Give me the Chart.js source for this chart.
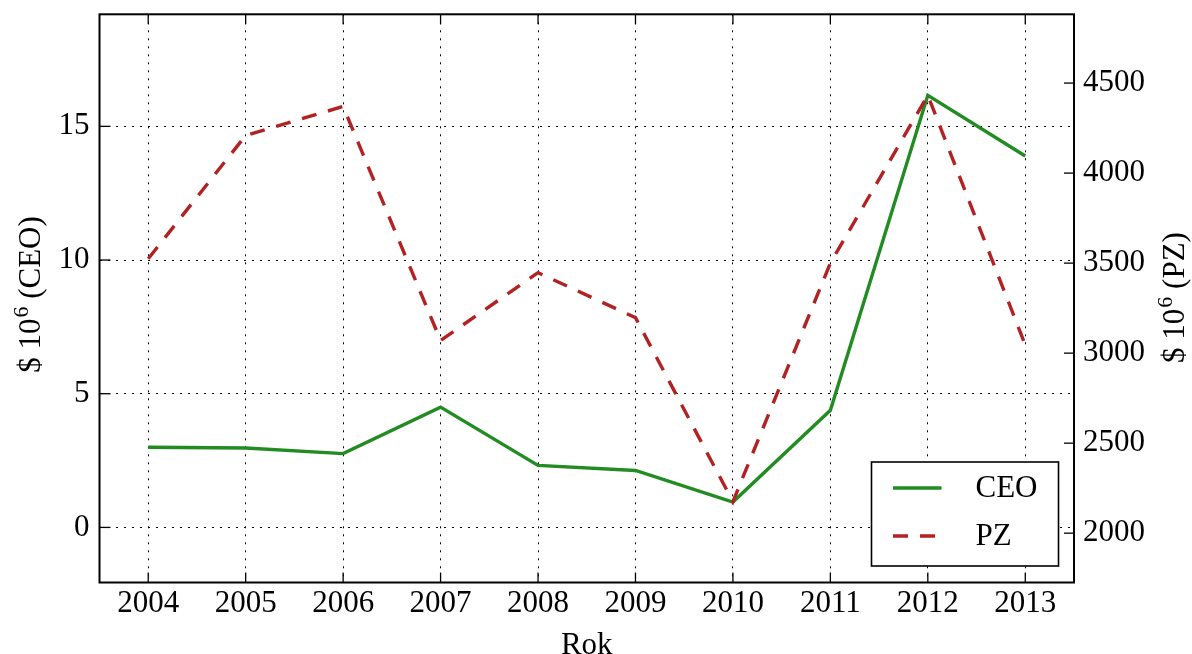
<!DOCTYPE html>
<html><head><meta charset="utf-8">
<script src="https://cdn.jsdelivr.net/npm/chart.js@4.4.1/dist/chart.umd.min.js"></script>
<style>html,body{margin:0;padding:0;background:#fff;} #wrap{width:1192px;height:654px;position:relative;}</style>
</head><body><div id="wrap"><canvas id="c" width="1192" height="654"></canvas></div>
<script>
const years = ['2004','2005','2006','2007','2008','2009','2010','2011','2012','2013'];
const ceoValues = [3.0, 2.97, 2.76, 4.5, 2.32, 2.13, 0.95, 4.38, 16.16, 13.89];
const pzValues = [3524, 4209, 4370, 3070, 3447, 3197, 2175, 3500, 4432, 3045];
const ceoTicks = [0, 5, 10, 15];
const pzTicks = [2000, 2500, 3000, 3500, 4000, 4500];
const ceoRange = [-2.06, 19.19];
const pzRange = [1726, 4882];
const seriesNames = ['CEO', 'PZ'];
const xTitle = 'Rok';
const leftTitle = ['$ 10', '6', ' (CEO)'];
const rightTitle = ['$ 10', '6', ' (PZ)'];

const FONT = '"Liberation Serif", "Times New Roman", serif';
const FS = 31;
const GREEN = '#228B22', RED = '#B22222';
const DASH = [15, 12];

function drawSupText(ctx, parts, cx, baseY, size) {
  const big = size + 'px ' + FONT, small = Math.round(size * 0.7) + 'px ' + FONT;
  ctx.font = big; const w0 = ctx.measureText(parts[0]).width;
  ctx.font = small; const w1 = ctx.measureText(parts[1]).width;
  ctx.font = big; const w2 = ctx.measureText(parts[2]).width;
  let x = cx - (w0 + w1 + w2) / 2;
  ctx.textAlign = 'left'; ctx.textBaseline = 'alphabetic';
  ctx.font = big; ctx.fillText(parts[0], x, baseY); x += w0;
  ctx.font = small; ctx.fillText(parts[1], x + 1, baseY - size * 0.4); x += w1 + 1;
  ctx.font = big; ctx.fillText(parts[2], x, baseY);
}

const decor = {
  id: 'decor',
  afterDatasetsDraw(chart) {
    const {ctx, chartArea: a, scales} = chart;
    ctx.save();
    ctx.strokeStyle = '#000';
    ctx.lineWidth = 1.3;
    const ln = (x1, y1, x2, y2) => { ctx.beginPath(); ctx.moveTo(x1, y1); ctx.lineTo(x2, y2); ctx.stroke(); };
    scales.x.ticks.forEach((t, i) => {
      const px = scales.x.getPixelForTick(i);
      ln(px, a.bottom, px, a.bottom - 10);
      ln(px, a.top, px, a.top + 10);
    });
    scales.y.ticks.forEach(t => { const py = scales.y.getPixelForValue(t.value); ln(a.left, py, a.left + 11, py); });
    scales.y1.ticks.forEach(t => { const py = scales.y1.getPixelForValue(t.value); ln(a.right - 10, py, a.right, py); });
    ctx.lineWidth = 2;
    ctx.strokeRect(a.left, a.top, a.right - a.left, a.bottom - a.top);
    ctx.restore();
  },
  afterDraw(chart) {
    const {ctx, chartArea: a} = chart;
    ctx.save();
    const bw = 187, bh = 104;
    const bx = a.right - 15.5 - bw, by = a.bottom - 16.5 - bh;
    ctx.fillStyle = '#fff';
    ctx.fillRect(bx, by, bw, bh);
    ctx.strokeStyle = '#000'; ctx.lineWidth = 1.6;
    ctx.strokeRect(bx, by, bw, bh);
    const ds = chart.data.datasets;
    [26, 74].forEach((dy, i) => {
      const y = by + dy;
      ctx.beginPath();
      ctx.strokeStyle = ds[i].borderColor; ctx.lineWidth = ds[i].borderWidth;
      ctx.setLineDash(ds[i].borderDash || []);
      ctx.moveTo(bx + 21.5, y); ctx.lineTo(bx + 70, y); ctx.stroke();
      ctx.setLineDash([]);
      ctx.fillStyle = '#000'; ctx.font = FS + 'px ' + FONT;
      ctx.textAlign = 'left'; ctx.textBaseline = 'middle';
      ctx.fillText(seriesNames[i], bx + 104, y + 1);
    });
    ctx.fillStyle = '#000';
    ctx.font = FS + 'px ' + FONT; ctx.textAlign = 'center'; ctx.textBaseline = 'alphabetic';
    ctx.fillText(xTitle, (a.left + a.right) / 2, 654);
    ctx.save();
    ctx.translate(40, 295); ctx.rotate(-Math.PI / 2);
    drawSupText(ctx, leftTitle, 0, 0, FS);
    ctx.restore();
    ctx.save();
    ctx.translate(1184, 298); ctx.rotate(-Math.PI / 2);
    drawSupText(ctx, rightTitle, 0, 0, FS);
    ctx.restore();
    ctx.restore();
  }
};

const tickFont = {family: FONT, size: FS};
const plain = v => String(v);
new Chart(document.getElementById('c'), {
  type: 'line',
  data: {
    labels: years,
    datasets: [
      {label: seriesNames[0], data: ceoValues, yAxisID: 'y', borderColor: GREEN, borderWidth: 3.4, pointRadius: 0, fill: false, tension: 0, order: 2},
      {label: seriesNames[1], data: pzValues, yAxisID: 'y1', borderColor: RED, borderWidth: 3.4, borderDash: DASH, pointRadius: 0, fill: false, tension: 0, order: 1}
    ]
  },
  options: {
    responsive: false, animation: false, devicePixelRatio: 1,
    layout: {padding: {top: 14.3, left: 0, right: 0, bottom: 0}},
    plugins: {legend: {display: false}, tooltip: {enabled: false}},
    scales: {
      x: {
        type: 'category', offset: true,
        grid: {display: true, color: '#000', lineWidth: 1, drawTicks: false, offset: false},
        border: {display: false, dash: [2, 6]},
        ticks: {color: '#000', font: tickFont, padding: 3, maxRotation: 0, autoSkip: false},
        afterFit: s => { s.height = 71.5; s.paddingLeft = 0; s.paddingRight = 0; }
      },
      y: {
        position: 'left', min: ceoRange[0], max: ceoRange[1],
        afterBuildTicks: s => { s.ticks = ceoTicks.map(v => ({value: v})); },
        grid: {color: '#000', lineWidth: 1, drawTicks: false},
        border: {display: false, dash: [2, 6]},
        ticks: {color: '#000', font: tickFont, padding: 10, callback: plain},
        afterFit: s => { s.width = 99.5; s.paddingTop = 0; s.paddingBottom = 0; }
      },
      y1: {
        position: 'right', min: pzRange[0], max: pzRange[1],
        afterBuildTicks: s => { s.ticks = pzTicks.map(v => ({value: v})); },
        grid: {display: false, drawTicks: false},
        border: {display: false},
        ticks: {color: '#000', font: tickFont, padding: 9, callback: plain},
        afterFit: s => { s.width = 118; s.paddingTop = 0; s.paddingBottom = 0; }
      }
    }
  },
  plugins: [decor]
});
</script>
</body></html>
